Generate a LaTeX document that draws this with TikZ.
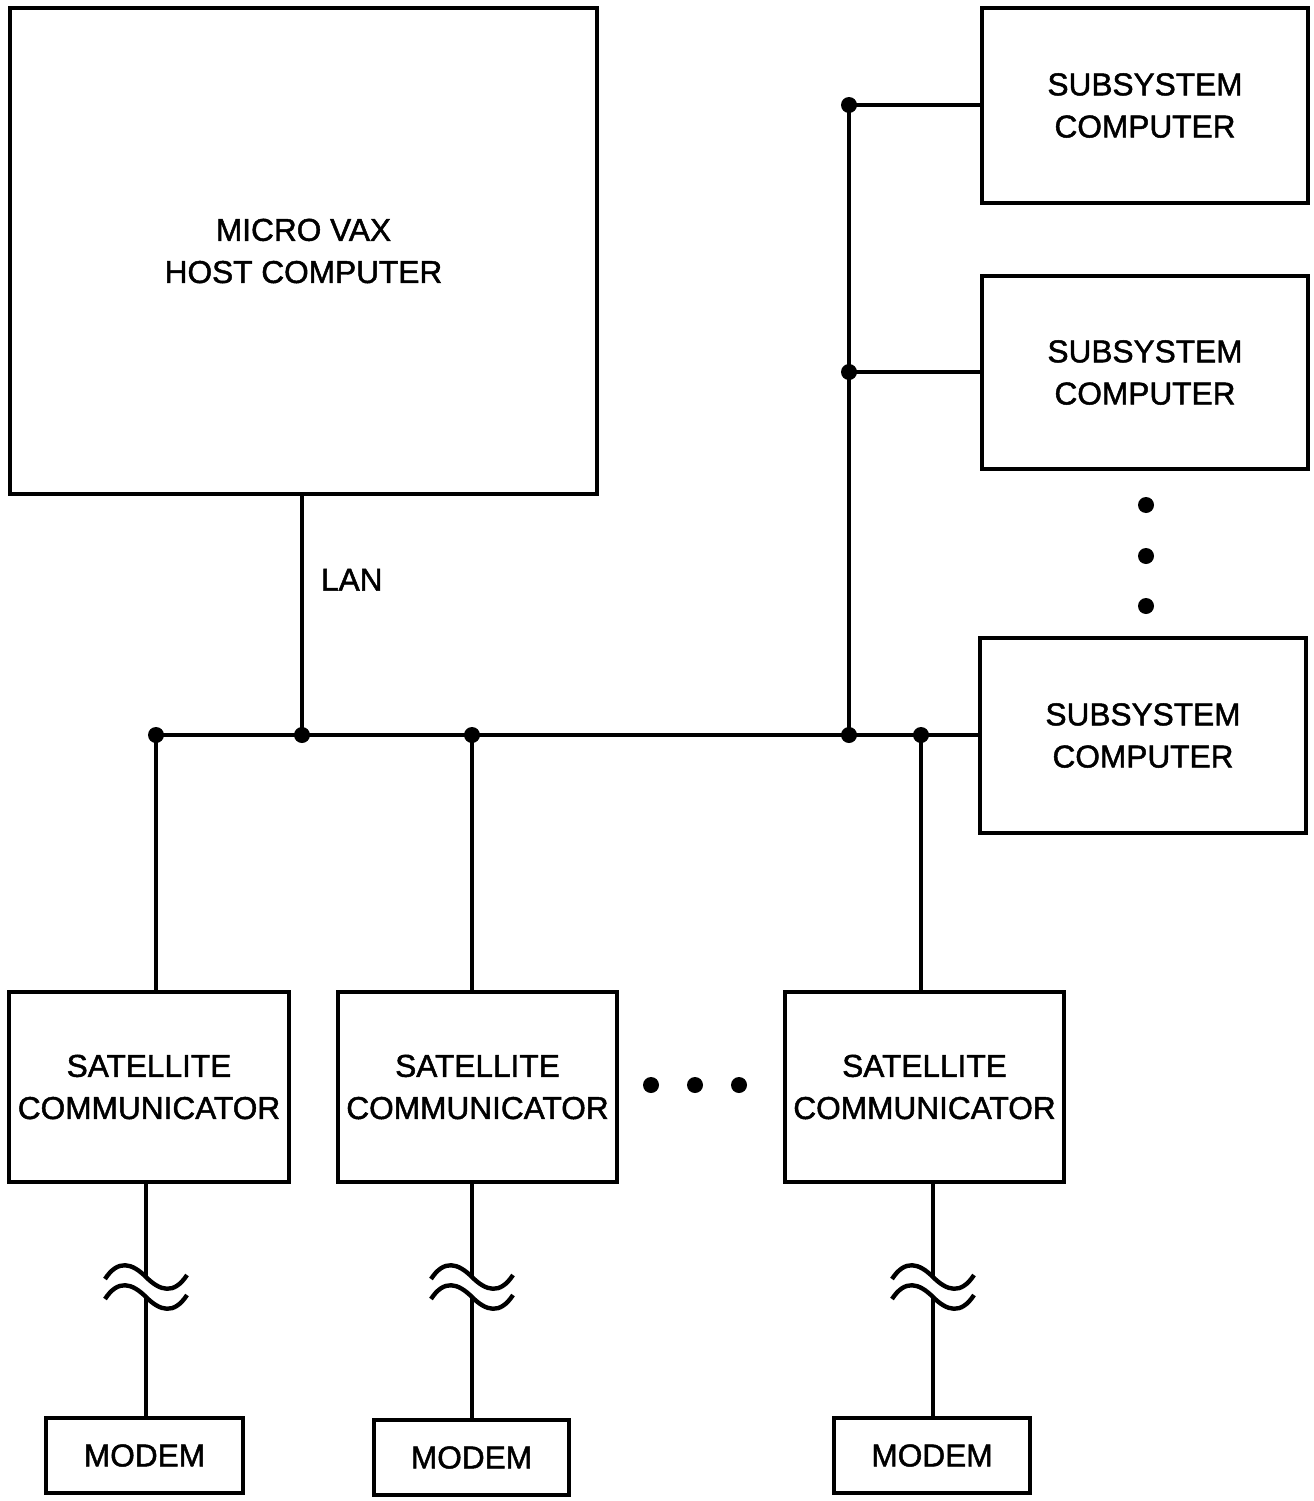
\documentclass[tikz,border=0pt]{standalone}
\usepackage{fontspec}
\setmainfont{Liberation Sans}[BoldFont={Liberation Sans}, BoldFeatures={FakeBold=1.5}]
\usepackage{tikz}
\usetikzlibrary{calc}

\begin{document}
\begin{tikzpicture}[
    x=0.02cm, y=-0.02cm,
    every node/.style={font=\fontsize{18}{24}\selectfont\bfseries, align=center},
    unit/.style={draw, line width=2.5pt, inner sep=0pt},
    wire/.style={line width=2.5pt},
    junction/.style={circle, fill, inner sep=0pt, minimum size=0.32cm},
    wavebreak/.pic={
      \draw[wire] (-41,-8) .. controls (-28,-28) and (-14,-24) .. (0,-10)
                  .. controls (14,4) and (28,8) .. (41,-12);
      \draw[wire] (-41,12) .. controls (-28,-8) and (-14,-4) .. (0,10)
                  .. controls (14,24) and (28,28) .. (41,8);
    }
  ]
    \useasboundingbox (0,0) rectangle (1314,1501);

    % computers
    \node[unit, minimum width=11.74cm, minimum height=9.72cm] (host) at (303.5,251)
      {MICRO VAX\\HOST COMPUTER};
    \node[unit, minimum width=6.52cm, minimum height=3.9cm] (sub1) at (1145,105.5)
      {SUBSYSTEM\\COMPUTER};
    \node[unit, minimum width=6.52cm, minimum height=3.86cm] (sub2) at (1145,372.5)
      {SUBSYSTEM\\COMPUTER};
    \node[unit, minimum width=6.52cm, minimum height=3.9cm] (sub3) at (1143,735.5)
      {SUBSYSTEM\\COMPUTER};

    % satellite communicators
    \node[unit, minimum width=5.6cm, minimum height=3.8cm] (sat1) at (149,1087)
      {SATELLITE\\COMMUNICATOR};
    \node[unit, minimum width=5.58cm, minimum height=3.8cm] (sat2) at (477.5,1087)
      {SATELLITE\\COMMUNICATOR};
    \node[unit, minimum width=5.58cm, minimum height=3.8cm] (sat3) at (924.5,1087)
      {SATELLITE\\COMMUNICATOR};

    % modems
    \node[unit, minimum width=3.94cm, minimum height=1.5cm] (mod1) at (144.5,1455.5) {MODEM};
    \node[unit, minimum width=3.9cm, minimum height=1.5cm] (mod2) at (471.5,1457.5) {MODEM};
    \node[unit, minimum width=3.92cm, minimum height=1.5cm] (mod3) at (932,1455.5) {MODEM};

    % bus junctions
    \coordinate (j1) at (156,735);
    \coordinate (j2) at (302,735);
    \coordinate (j3) at (472,735);
    \coordinate (j4) at (849,735);
    \coordinate (j5) at (921,735);
    \coordinate (r1) at (849,105);
    \coordinate (r2) at (849,372);

    % LAN bus
    \draw[wire] (j1) -- (j1 -| sub3.west);
    \draw[wire] (j2 |- host.south) -- (j2) node[pos=0.35, right=0.22cm] (lan) {LAN};
    \draw[wire] (j4) -- (r1);
    \draw[wire] (r1) -- (r1 -| sub1.west);
    \draw[wire] (r2) -- (r2 -| sub2.west);
    \draw[wire] (j1) -- (j1 |- sat1.north);
    \draw[wire] (j3) -- (j3 |- sat2.north);
    \draw[wire] (j5) -- (j5 |- sat3.north);

    \foreach \j in {j1,j2,j3,j4,j5,r1,r2}
      \node[junction] at (\j) {};

    % radio links with line breaks
    \coordinate (b1) at (146,1287);
    \coordinate (b2) at (472,1287);
    \coordinate (b3) at (933,1287);
    \foreach \b/\s/\m in {b1/sat1/mod1, b2/sat2/mod2, b3/sat3/mod3} {
      \draw[wire] (\b |- \s.south) -- ($(\b)+(0,-11)$);
      \draw[wire] ($(\b)+(0,10)$) -- (\b |- \m.north);
      \pic at (\b) {wavebreak};
    }

    % ellipses
    \foreach \y in {505,556,606}
      \node[junction] at (1146,\y) {};
    \foreach \x in {651,695,739}
      \node[junction] at (\x,1085) {};
  \end{tikzpicture}
\end{document}
